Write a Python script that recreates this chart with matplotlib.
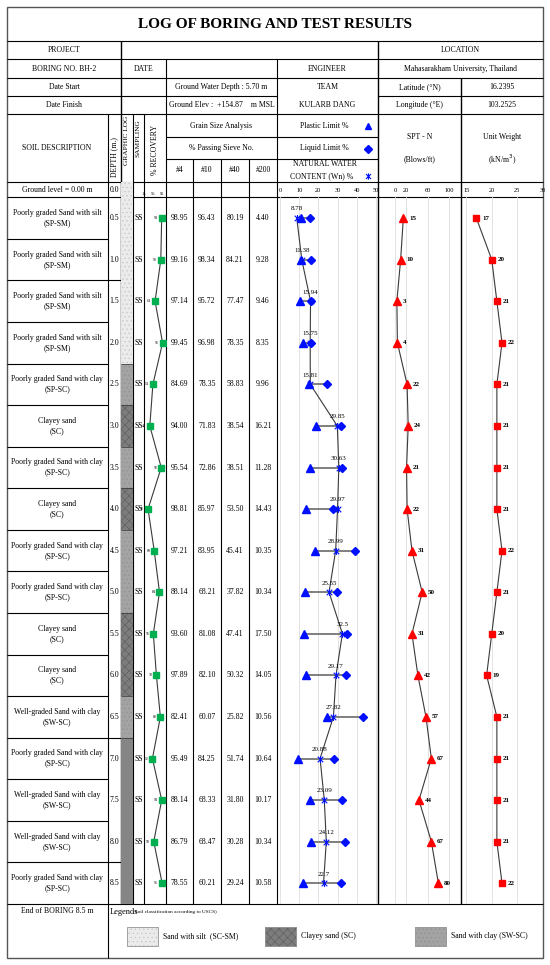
import matplotlib
matplotlib.use("Agg")
import matplotlib.pyplot as plt
from matplotlib.patches import Rectangle
from matplotlib.path import Path

plt.rcParams["font.family"] = ["Liberation Serif", "DejaVu Serif"]
plt.rcParams["hatch.linewidth"] = 0.4

# ---------------------------------------------------------------------------
# Data read from the boring log
# ---------------------------------------------------------------------------
depths = [0.5, 1.0, 1.5, 2.0, 2.5, 3.0, 3.5, 4.0, 4.5, 5.0, 5.5, 6.0, 6.5, 7.0, 7.5, 8.0, 8.5]
soil_desc = [
    "Poorly graded Sand with silt\n(SP-SM)",
    "Poorly graded Sand with silt\n(SP-SM)",
    "Poorly graded Sand with silt\n(SP-SM)",
    "Poorly graded Sand with silt\n(SP-SM)",
    "Poorly graded Sand with clay\n(SP-SC)",
    "Clayey sand\n(SC)",
    "Poorly graded Sand with clay\n(SP-SC)",
    "Clayey sand\n(SC)",
    "Poorly graded Sand with clay\n(SP-SC)",
    "Poorly graded Sand with clay\n(SP-SC)",
    "Clayey sand\n(SC)",
    "Clayey sand\n(SC)",
    "Well-graded Sand with clay\n(SW-SC)",
    "Poorly graded Sand with clay\n(SP-SC)",
    "Well-graded Sand with clay\n(SW-SC)",
    "Well-graded Sand with clay\n(SW-SC)",
    "Poorly graded Sand with clay\n(SP-SC)",
]
sampling = ["SS"] * 17
recovery = [94, 90, 64, 98, 54, 40, 92, 32, 60, 84, 56, 70, 88, 52, 94, 58, 96]
pass_4 = [98.95, 99.16, 97.14, 99.45, 84.69, 94.00, 95.54, 98.81, 97.21, 88.14,
          93.60, 97.89, 82.41, 95.49, 88.14, 86.79, 78.55]
pass_10 = [96.43, 98.34, 95.72, 96.98, 78.35, 71.83, 72.86, 85.97, 83.95, 68.21,
           81.08, 82.10, 60.07, 84.25, 68.33, 68.47, 60.21]
pass_40 = [80.19, 84.21, 77.47, 78.35, 58.83, 38.54, 38.51, 53.50, 45.41, 37.82,
           47.41, 50.32, 25.82, 51.74, 31.80, 30.28, 29.24]
pass_200 = [4.40, 9.28, 9.46, 8.35, 9.96, 16.21, 11.28, 14.43, 10.35, 10.34,
            17.50, 14.05, 10.56, 10.64, 10.17, 10.34, 10.58]
water_content = [8.78, 11.38, 15.94, 15.75, 15.81, 29.85, 30.63, 29.97, 28.99,
                 25.55, 32.5, 29.17, 27.82, 20.88, 23.09, 24.12, 22.7]
plastic_limit = [11, 11, 10.7, 12, 15, 19, 15.5, 13.5, 18, 13, 12.6, 13.8, 24.5,
                 9.2, 15.9, 16.4, 12]
liquid_limit = [15.5, 16, 16, 16.2, 24.7, 31.6, 32.5, 27.5, 39, 29.7, 35, 34.5,
                43, 28, 32.5, 34, 31.6]
spt_n = [15, 10, 3, 4, 22, 24, 21, 22, 31, 50, 31, 42, 57, 67, 44, 67, 80]
unit_weight = [17, 20, 21, 22, 21, 21, 21, 21, 22, 21, 20, 19, 21, 21, 21, 21, 22]

layer_top = [0.0, 2.25, 2.75, 3.25, 3.75, 4.25, 5.25, 6.25, 6.75]
layer_bottom = [2.25, 2.75, 3.25, 3.75, 4.25, 5.25, 6.25, 6.75, 8.75]
layer_soil = ["SM", "SW", "SC", "SW", "SC", "SW", "SC", "SW", "SW2"]

legend_codes = ["SM", "SC", "SW"]
legend_labels = ["Sand with silt  (SC-SM)", "Clayey sand (SC)", "Sand with clay (SW-SC)"]

wn_ticks = [0, 10, 20, 30, 40, 50]
spt_ticks = [0, 20, 60, 100]
uw_ticks = [15, 20, 25, 30]
rec_ticks = [15, 55, 95]

# ---------------------------------------------------------------------------
# Styling / layout
# ---------------------------------------------------------------------------
SOIL_STYLE = {
    "SM": dict(facecolor="#ebebeb", hatch_color="#c4c4c4", hatch="...."),
    "SW": dict(facecolor="#a3a3a3", hatch_color="#8f8f8f", hatch="...."),
    "SC": dict(facecolor="#7d7d7d", hatch_color="#5c5c5c", hatch="xxxx"),
    "SW2": dict(facecolor="#858585", hatch_color="#7a7a7a", hatch=""),
}
BLUE = "#0010ff"
RED = "#ff0000"
GREEN = "#00b050"
LINE = "#3a3a3a"
FS = 5.6

W, H = 550, 965
# row / column edges in pixels
Y_TOP, Y_TITLE, Y_R1, Y_R2, Y_R3, Y_R4 = 7, 41, 59.3, 77.7, 96, 114.3
Y_H1, Y_H2, Y_H3, Y_G, Y_END, Y_BOT = 136.7, 159.3, 181.7, 197.3, 904, 958
X_L, X_SD, X_DP, X_GL, X_SA, X_RC = 7, 107.5, 121, 133, 144, 166
X_4, X_10, X_40, X_200, X_WN, X_SPT, X_R = 193, 221, 249, 277, 378, 461, 543

STAR = Path([(-1, -1), (1, 1), (-1, 1), (1, -1), (0, -1.25), (0, 1.25)],
            [Path.MOVETO, Path.LINETO, Path.MOVETO, Path.LINETO, Path.MOVETO, Path.LINETO])

fig = plt.figure(figsize=(W / 100, H / 100), dpi=100)
bg = fig.add_axes([0, 0, 1, 1])
bg.set_xlim(0, W)
bg.set_ylim(H, 0)
bg.axis("off")


def px_axes(x0, y0, x1, y1):
    return fig.add_axes([x0 / W, 1 - y1 / H, (x1 - x0) / W, (y1 - y0) / H])


def hline(y, x0, x1, lw=0.8):
    bg.plot([x0, x1], [y, y], color="black", lw=lw, solid_capstyle="butt")


def vline(x, y0, y1, lw=0.8):
    bg.plot([x, x], [y0, y1], color="black", lw=lw, solid_capstyle="butt")


def txt(x, y, s, size=FS, **kw):
    kw.setdefault("ha", "center")
    kw.setdefault("va", "center")
    bg.text(x, y, s, fontsize=size, **kw)


# ---------------------------------------------------------------------------
# Table frame
# ---------------------------------------------------------------------------
bg.add_patch(Rectangle((X_L, Y_TOP), X_R - X_L, Y_BOT - Y_TOP, fill=False,
                       edgecolor="#555555", lw=1.0))
for y in (Y_TITLE, Y_R1, Y_R2, Y_R4, Y_H3, Y_G, Y_END):
    hline(y, X_L, X_R)
hline(Y_R3, X_L, X_200)
hline(Y_R3, X_WN, X_R)
hline(Y_H1, X_RC, X_WN)
hline(Y_H2, X_RC, X_WN)

vline(X_SD, Y_R4, Y_BOT)
vline(X_DP, Y_TITLE, Y_END, lw=1.0)
vline(X_GL, Y_R4, Y_END)
vline(X_SA, Y_R4, Y_END)
vline(X_RC, Y_R1, Y_END)
for x in (X_4, X_10, X_40):
    vline(x, Y_H2, Y_END)
vline(X_200, Y_R1, Y_END)
vline(X_WN, Y_TITLE, Y_END, lw=1.0)
vline(X_SPT, Y_R2, Y_END, lw=1.0)

# header texts
txt((X_L + X_R) / 2, 24.5, "LOG OF BORING AND TEST RESULTS", size=11, fontweight="bold")
txt(64, 50.5, "PROJECT")
txt(460.5, 50.5, "LOCATION")
txt(64, 68.8, "BORING NO. BH-2")
txt(143.5, 68.8, "DATE")
txt(327.5, 68.8, "ENGINEER")
txt(460.5, 68.8, "Mahasarakham University, Thailand")
txt(64, 87, "Date Start")
txt(221.5, 87, "Ground Water Depth : 5.70 m")
txt(327.5, 87, "TEAM")
txt(419.5, 87, "Latitude (°N)")
txt(502, 87, "16.2395")
txt(64, 105.3, "Date Finish")
txt(221.5, 105.3, "Ground Elev :  +154.87    m MSL")
txt(327.5, 105.3, "KULARB DANG")
txt(419.5, 105.3, "Longitude (°E)")
txt(502, 105.3, "103.2525")

txt(57, 148, "SOIL DESCRIPTION")
txt(114.3, 157, "DEPTH (m.)", rotation=90)
txt(127, 140, "GRAPHIC LOG", rotation=90, size=5.3)
txt(138.5, 138, "SAMPLING", rotation=90, size=5.3)
txt(155, 150, "% RECOVERY", rotation=90)
txt(221.5, 125.5, "Grain Size Analysis")
txt(221.5, 148, "% Passing Sieve No.")
for xc, lab in zip((179.5, 207, 235, 263), ("#4", "#10", "#40", "#200")):
    txt(xc, 170.5, lab)
txt(324, 125.5, "Plastic Limit %")
txt(324, 148, "Liquid Limit %")
txt(325, 164.5, "NATURAL WATER")
txt(322, 176, "CONTENT (Wn) %")
bg.plot([367.5], [125.5], marker="^", ms=5, color=BLUE, ls="none")
bg.plot([367.5], [148.5], marker="D", ms=4.2, color=BLUE, ls="none")
bg.plot([367.5], [176], marker=STAR, ms=4.5, mew=0.8, mec=BLUE, ls="none")
txt(419.5, 137, "SPT - N")
txt(419.5, 159.5, "(Blows/ft)")
txt(502, 137, "Unit Weight")
txt(502, 159.5, "(kN/m$^3$)")

txt(57, 189.5, "Ground level = 0.00 m")
txt(109.5, 189.5, "0.0", ha="left")

# legend row
txt(57, 911, "End of BORING 8.5 m")
txt(109.5, 911.5, "Legends", ha="left", size=6)
txt(133, 912, "(Soil classification according to USCS)", ha="left", size=3.8)
for code, label, x0 in zip(legend_codes, legend_labels, (127, 265, 415)):
    st = SOIL_STYLE[code]
    bg.add_patch(Rectangle((x0, 927), 31, 19, facecolor=st["facecolor"],
                           edgecolor=st["hatch_color"], hatch=st["hatch"], lw=0.5))
    bg.add_patch(Rectangle((x0, 927), 31, 19, fill=False, edgecolor="#9a9a9a", lw=0.6))
    txt(x0 + 36, 936.5, label, ha="left")

# ---------------------------------------------------------------------------
# Depth-aligned table part (descriptions, sampling, sieve results)
# ---------------------------------------------------------------------------
tab = px_axes(X_L, Y_G, X_200, Y_END)
tab.set_xlim(X_L, X_200)
tab.set_ylim(8.75, 0.25)
tab.axis("off")
for d, desc, ss, p4, p10, p40, p200 in zip(depths, soil_desc, sampling,
                                         pass_4, pass_10, pass_40, pass_200):
    tab.text(57.25, d, desc, fontsize=FS, ha="center", va="center", linespacing=1.35)
    tab.text(109.5, d, f"{d:.1f}", fontsize=FS, ha="left", va="center")
    tab.text(134.5, d, ss, fontsize=FS, ha="left", va="center")
    for xc, v in zip((179.5, 207, 235, 263), (p4, p10, p40, p200)):
        tab.text(xc, d, f"{v:.2f}", fontsize=FS, ha="center", va="center")
row_edges = [d + 0.25 for d in depths[:-1]]
tab.hlines(row_edges, X_L, X_SD, color="black", lw=0.8)
tab.hlines([1.25, 6.75, 8.25], X_SD, X_DP, color="black", lw=0.8)

# graphic log column
glog = px_axes(X_DP, Y_H3, X_GL, Y_END)
glog.set_xlim(0, 1)
glog.set_ylim(8.75, 0.0625)
glog.axis("off")
for top, bot, code in zip(layer_top, layer_bottom, layer_soil):
    st = SOIL_STYLE[code]
    glog.bar(0.5, bot - top, bottom=top, width=1.0, color=st["facecolor"],
             edgecolor=st["hatch_color"], hatch=st["hatch"], lw=0)
glog.hlines(layer_bottom[:-1], 0, 1, color="#333333", lw=0.5)


# ---------------------------------------------------------------------------
# Profile charts
# ---------------------------------------------------------------------------
def chart_axes(x0, x1, xlim, ticks, size=4.6, pad=3.2):
    ax = px_axes(x0, Y_G, x1, Y_END)
    ax.set_xlim(*xlim)
    ax.set_ylim(8.75, 0.25)
    ax.patch.set_alpha(0)
    for sp in ax.spines.values():
        sp.set_visible(False)
    ax.set_yticks([])
    ax.xaxis.tick_top()
    ax.set_xticks(ticks)
    ax.tick_params(axis="x", length=0, labelsize=size, pad=pad)
    ax.grid(axis="x", color="#dedede", lw=0.6)
    ax.set_axisbelow(True)
    return ax


# recovery
rec = chart_axes(X_SA, X_RC, (13.6, 113.6), rec_ticks, size=3.2, pad=0.8)
rec.grid(False)
rec.plot(recovery, depths, color=LINE, lw=0.8, zorder=2)
rec.plot(recovery, depths, ls="none", marker="s", ms=4.2, color=GREEN, zorder=3)
for v, d in zip(recovery, depths):
    rec.annotate(str(v), (v, d), xytext=(-2.8, 0), textcoords="offset points",
                 fontsize=2.8, ha="right", va="center")

# water content, plastic and liquid limits
wn = chart_axes(X_200, X_WN, (-1.5, 51), wn_ticks)
wn.hlines(depths, plastic_limit, liquid_limit, color="#7f7f7f", lw=1.4, zorder=2)
wn.plot(water_content, depths, color=LINE, lw=0.8, zorder=2)
wn.plot(plastic_limit, depths, ls="none", marker="^", ms=5.6, color=BLUE, zorder=3)
wn.plot(liquid_limit, depths, ls="none", marker="D", ms=4.4, color=BLUE, zorder=3)
wn.plot(water_content, depths, ls="none", marker=STAR, ms=5, mew=0.8, mec=BLUE, zorder=4)
for v, d in zip(water_content, depths):
    wn.annotate(str(v), (v, d), xytext=(0, 6.6), textcoords="offset points",
                fontsize=5, ha="center", va="center")

# SPT-N
spt = chart_axes(X_WN, X_SPT, (-32, 122), spt_ticks)
spt.plot(spt_n, depths, color=LINE, lw=0.8, zorder=2)
spt.plot(spt_n, depths, ls="none", marker="^", ms=5.6, color=RED, zorder=3)
for v, d in zip(spt_n, depths):
    spt.annotate(str(v), (v, d), xytext=(4.2, 0), textcoords="offset points",
                 fontsize=5, fontweight="bold", ha="left", va="center")

# unit weight
uw = chart_axes(X_SPT, X_R, (14, 30), uw_ticks)
uw.plot(unit_weight, depths, color=LINE, lw=0.8, zorder=2)
uw.plot(unit_weight, depths, ls="none", marker="s", ms=5, color=RED, zorder=3)
for v, d in zip(unit_weight, depths):
    uw.annotate(str(v), (v, d), xytext=(4.2, 0), textcoords="offset points",
                fontsize=5, fontweight="bold", ha="left", va="center")

fig.savefig("out.png", dpi=100, facecolor="white")
